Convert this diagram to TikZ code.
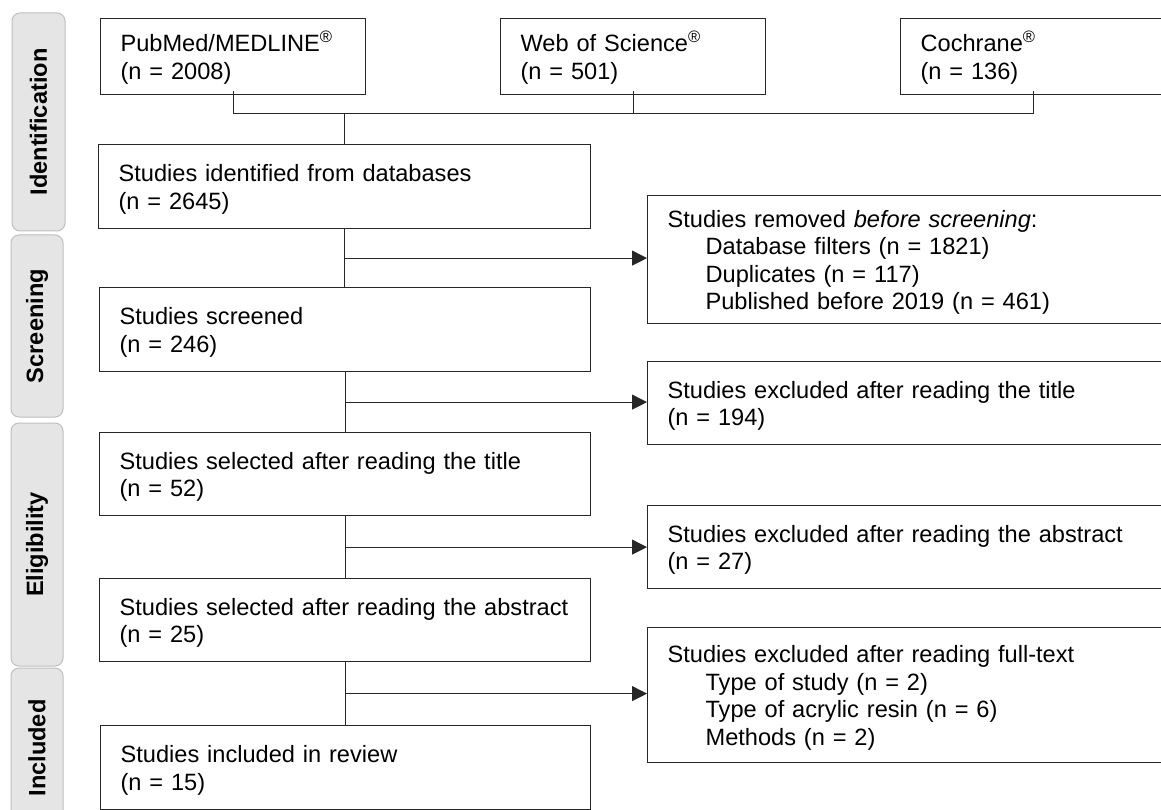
\documentclass[tikz,border=0pt]{standalone}
\usepackage{fontspec}
\setmainfont{Liberation Sans}
\usetikzlibrary{arrows.meta,calc}
\newcommand{\firstln}{\rule{0pt}{23pt}}
\begin{document}
\begin{tikzpicture}[x=1pt,y=-1pt,
  box/.style={draw=black!85, line width=1.2pt, rectangle, anchor=north west, inner xsep=20pt, inner ysep=0pt, align=left, font=\fontsize{23.6}{27.5}\selectfont},
  phase/.style={draw=black!25, fill=black!10, line width=1pt, rounded corners=8pt, rotate=90, inner sep=0pt, font=\fontsize{23.6}{27}\selectfont\bfseries},
  conn/.style={draw=black!85, line width=1.1pt},
  arr/.style={conn, -{Triangle[length=15pt,width=15pt]}}
]
\clip (0,0) rectangle (1161,810);
\fill[white] (0,0) rectangle (1161,810);
% phase bars
\node[phase, minimum width=218pt, minimum height=53pt] (ph1) at (38.5,122) {Identification};
\node[phase, minimum width=182pt, minimum height=52pt] (ph2) at (37,326) {Screening};
\node[phase, minimum width=243pt, minimum height=52pt] (ph3) at (37,544.5) {Eligibility};
\node[phase, minimum width=160pt, minimum height=52pt] (ph4) at (37,748) {Included};
% database boxes
\node[box, minimum height=76pt, text width=225pt] (pub) at (100,18) {\firstln PubMed/MEDLINE\textsuperscript{®}\\(n = 2008)};
\node[box, minimum height=76pt, text width=225pt] (wos) at (500,18) {\firstln Web of Science\textsuperscript{®}\\(n = 501)};
\node[box, minimum height=76pt, text width=225pt] (coch) at (900,18) {\firstln Cochrane\textsuperscript{®}\\(n = 136)};
% main column
\node[box, minimum height=84pt, text width=452pt] (ident) at (98,144) {\firstln Studies identified from databases\\(n = 2645)};
\node[box, minimum height=84pt, text width=451pt] (scr) at (99,287) {\firstln Studies screened\\(n = 246)};
\node[box, minimum height=83pt, text width=451pt] (sel1) at (99,432) {\firstln Studies selected after reading the title\\(n = 52)};
\node[box, minimum height=83pt, text width=451pt] (sel2) at (99,578) {\firstln Studies selected after reading the abstract\\(n = 25)};
\node[box, minimum height=84pt, text width=450pt] (incl) at (100,725) {\firstln Studies included in review\\(n = 15)};
% right column
\node[box, minimum height=128pt, text width=488pt] (rem) at (647,195) {\firstln Studies removed \textit{before screening}:\\\hspace*{38pt}Database filters (n = 1821)\\\hspace*{38pt}Duplicates (n = 117)\\\hspace*{38pt}Published before 2019 (n = 461)};
\node[box, minimum height=83pt, text width=488pt] (ex1) at (647,361) {\firstln Studies excluded after reading the title\\(n = 194)};
\node[box, minimum height=83pt, text width=488pt] (ex2) at (647,505) {\firstln Studies excluded after reading the abstract\\(n = 27)};
\node[box, minimum height=135pt, text width=488pt] (ex3) at (647,627) {\firstln Studies excluded after reading full-text\\\hspace*{38pt}Type of study (n = 2)\\\hspace*{38pt}Type of acrylic resin (n = 6)\\\hspace*{38pt}Methods (n = 2)};
% merge connectors
\coordinate (jp) at ($(pub.south)+(0,18)$);
\coordinate (jc) at ($(coch.south)+(0,18)$);
\draw[conn] ($(pub.south)+(0,-4)$) -- (jp) -- (jc) -- ($(coch.south)+(0,-4)$);
\draw[conn] ($(wos.south)+(0,-4)$) -- (wos.south |- jp);
\draw[conn] (ident.north |- jp) -- (ident.north);
% main flow
\draw[conn] (ident.south) -- (ident.south |- scr.north);
\draw[conn] (scr.south) -- (scr.south |- sel1.north);
\draw[conn] (sel1.south) -- (sel1.south |- sel2.north);
\draw[conn] (sel2.south) -- (sel2.south |- incl.north);
% exclusion arrows
\coordinate (m1) at ($(ident.south)!0.5!(ident.south |- scr.north)$);
\coordinate (m2) at ($(scr.south)!0.5!(scr.south |- sel1.north)$);
\coordinate (m3) at ($(sel1.south)!0.5!(sel1.south |- sel2.north)$);
\coordinate (m4) at ($(sel2.south)!0.5!(sel2.south |- incl.north)$);
\draw[arr] (m1) -- (m1 -| rem.west);
\draw[arr] (m2) -- (m2 -| ex1.west);
\draw[arr] (m3) -- (m3 -| ex2.west);
\draw[arr] (m4) -- (m4 -| ex3.west);
\end{tikzpicture}
\end{document}
